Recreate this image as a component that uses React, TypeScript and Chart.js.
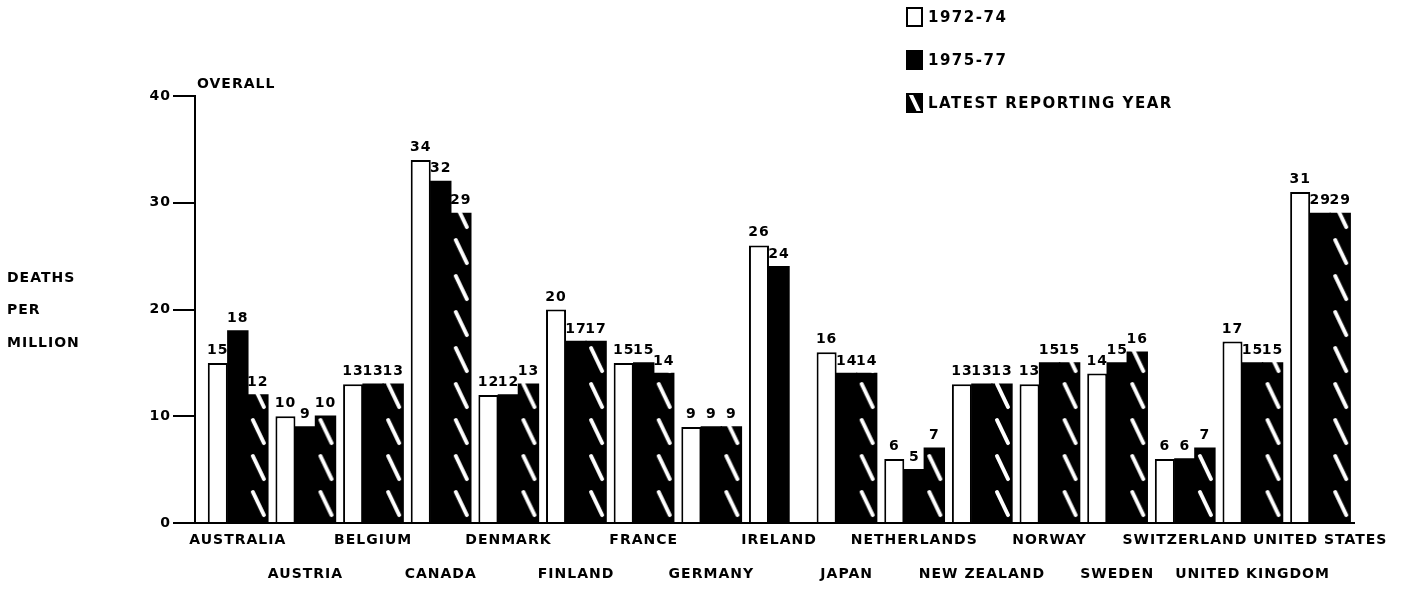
import React, { useEffect, useRef } from 'react';
import { Chart, registerables } from 'chart.js';

Chart.register(...registerables);

// ---- data ----
const countries = [
  'AUSTRALIA', 'AUSTRIA', 'BELGIUM', 'CANADA', 'DENMARK', 'FINLAND', 'FRANCE', 'GERMANY',
  'IRELAND', 'JAPAN', 'NETHERLANDS', 'NEW ZEALAND', 'NORWAY', 'SWEDEN', 'SWITZERLAND',
  'UNITED KINGDOM', 'UNITED STATES',
];
const period1972to74 = [15, 10, 13, 34, 12, 20, 15, 9, 26, 16, 6, 13, 13, 14, 6, 17, 31];
const period1975to77 = [18, 9, 13, 32, 12, 17, 15, 9, 24, 14, 5, 13, 15, 15, 6, 15, 29];
const latestReportingYear = [12, 10, 13, 29, 13, 17, 14, 9, null, 14, 7, 13, 15, 16, 7, 15, 29];
const seriesLabels = ['1972-74', '1975-77', 'LATEST REPORTING YEAR'];
const yTicks = [0, 10, 20, 30, 40];
const yTitleLines = ['DEATHS', 'PER', 'MILLION'];
const panelTitle = 'OVERALL';

const FONT = '"DejaVu Sans", sans-serif';

function makeHatchTile(): HTMLCanvasElement {
  const c = document.createElement('canvas');
  c.width = 20;
  c.height = 36;
  const g = c.getContext('2d') as CanvasRenderingContext2D;
  g.fillStyle = '#000';
  g.fillRect(0, 0, 20, 36);
  g.strokeStyle = '#fff';
  g.lineWidth = 4;
  g.lineCap = 'round';
  g.beginPath();
  g.moveTo(5, 5);
  g.lineTo(16, 28);
  g.stroke();
  return c;
}

export default function App() {
  const ref = useRef<HTMLCanvasElement | null>(null);

  useEffect(() => {
    const canvas = ref.current;
    if (!canvas) return;
    const tile = makeHatchTile();

    const spacingPlugin = {
      id: 'spacing',
      beforeDraw(chart: any) {
        chart.ctx.letterSpacing = '1px';
      },
    };

    const hatchPlugin = {
      id: 'hatchAlign',
      beforeDatasetsDraw(chart: any) {
        const ctx = chart.ctx as CanvasRenderingContext2D;
        const meta = chart.getDatasetMeta(2);
        meta.data.forEach((el: any) => {
          const { x, width } = el.getProps(['x', 'width'], true);
          const p = ctx.createPattern(tile, 'repeat') as CanvasPattern;
          p.setTransform(new DOMMatrix([width / 20, 0, 0, 1, x - width / 2, chart.chartArea.bottom]));
          el.options = Object.assign({}, el.options, { backgroundColor: p });
        });
      },
    };

    const valueLabelPlugin = {
      id: 'valueLabels',
      afterDatasetsDraw(chart: any) {
        const ctx = chart.ctx as CanvasRenderingContext2D;
        ctx.save();
        (ctx as any).letterSpacing = '1px';
        ctx.font = `bold 14px ${FONT}`;
        ctx.fillStyle = '#000';
        ctx.textAlign = 'center';
        ctx.textBaseline = 'alphabetic';
        chart.data.datasets.forEach((ds: any, di: number) => {
          const meta = chart.getDatasetMeta(di);
          meta.data.forEach((bar: any, i: number) => {
            const v = ds.data[i];
            if (v === null || v === undefined) return;
            const { x, y } = bar.getProps(['x', 'y'], true);
            ctx.fillText(String(v), x, y - 9);
          });
        });
        ctx.restore();
      },
    };

    const textPlugin = {
      id: 'extraText',
      afterDraw(chart: any) {
        const ctx = chart.ctx as CanvasRenderingContext2D;
        const area = chart.chartArea;
        const yScale = chart.scales.y;
        ctx.save();
        // baseline continues left to the value axis
        const y0 = yScale.getPixelForValue(0);
        ctx.strokeStyle = '#000';
        ctx.lineWidth = 2;
        ctx.beginPath();
        ctx.moveTo(yScale.right, y0);
        ctx.lineTo(area.left, y0);
        ctx.stroke();

        ctx.fillStyle = '#000';
        (ctx as any).letterSpacing = '1px';
        ctx.font = `bold 14px ${FONT}`;
        ctx.textBaseline = 'middle';
        ctx.textAlign = 'left';
        // panel title
        ctx.fillText(panelTitle, yScale.right + 2, area.top - 12);
        // y-axis title, horizontal lines at the left
        yTitleLines.forEach((line, i) => {
          ctx.fillText(line, 7, 278 + i * 32.5);
        });
        // legend (vertical, top right)
        (ctx as any).letterSpacing = '1.5px';
        ctx.font = `bold 15px ${FONT}`;
        const lx = 906;
        const bw = 17;
        const bh = 20;
        chart.data.datasets.forEach((ds: any, i: number) => {
          const cy = 17 + i * 43;
          const top = cy - bh / 2;
          if (i === 2) {
            const p = ctx.createPattern(tile, 'repeat') as CanvasPattern;
            p.setTransform(new DOMMatrix([1, 0, 0, 1, lx, top - 3]));
            ctx.fillStyle = p;
          } else {
            ctx.fillStyle = ds.backgroundColor;
          }
          ctx.fillRect(lx, top, bw, bh);
          ctx.strokeStyle = '#000';
          ctx.lineWidth = 2;
          ctx.strokeRect(lx + 1, top + 1, bw - 2, bh - 2);
          ctx.fillStyle = '#000';
          ctx.fillText(ds.label, lx + bw + 5, cy + 1);
        });
        ctx.restore();
      },
    };

    const barCommon = {
      categoryPercentage: 0.888,
      barPercentage: 1,
      borderColor: '#000',
      xAxisID: 'x',
      yAxisID: 'y',
    };

    const tickFont = { family: FONT, size: 14, weight: 'bold' as const };

    const chart = new Chart(canvas, {
      type: 'bar',
      data: {
        labels: countries.map((c, i) => (i % 2 === 0 ? c : ['', c])) as any,
        datasets: [
          { ...barCommon, label: seriesLabels[0], data: period1972to74, backgroundColor: '#fff', borderWidth: 2 },
          { ...barCommon, label: seriesLabels[1], data: period1975to77, backgroundColor: '#000', borderWidth: 0, inflateAmount: 0.7 },
          { ...barCommon, label: seriesLabels[2], data: latestReportingYear as any, backgroundColor: '#000', borderWidth: 0, inflateAmount: 0.7 },
        ],
      },
      options: {
        responsive: true,
        maintainAspectRatio: false,
        animation: false,
        events: [],
        layout: { padding: { top: 96, right: 64, left: 0, bottom: 0 } },
        plugins: {
          legend: { display: false },
          tooltip: { enabled: false },
          title: { display: false },
        },
        scales: {
          x: {
            type: 'category',
            offset: true,
            grid: { display: false, drawTicks: false },
            border: { display: true, color: '#000', width: 2 },
            ticks: {
              autoSkip: false,
              maxRotation: 0,
              minRotation: 0,
              padding: 0,
              color: '#000',
              font: { ...tickFont, lineHeight: '34px' },
            },
            afterFit: (s: any) => {
              s.height = 66;
            },
          },
          y: {
            type: 'linear',
            position: 'left',
            weight: 1,
            min: 0,
            max: 40,
            afterBuildTicks: (s: any) => {
              s.ticks = yTicks.map((v) => ({ value: v }));
            },
            ticks: { color: '#000', padding: 2, font: tickFont },
            grid: {
              display: true,
              drawOnChartArea: false,
              drawTicks: true,
              tickLength: 22,
              color: '#000',
              lineWidth: 2,
            },
            border: { display: true, color: '#000', width: 2 },
            afterFit: (s: any) => {
              s.width = 195;
            },
          },
          yGap: {
            type: 'linear',
            position: 'left',
            weight: 0,
            display: true,
            grid: { display: false },
            border: { display: false },
            ticks: { display: false },
            afterFit: (s: any) => {
              s.width = 9;
            },
          },
        },
      } as any,
      plugins: [spacingPlugin, hatchPlugin, valueLabelPlugin, textPlugin],
    });

    return () => {
      chart.destroy();
    };
  }, []);

  return (
    <div
      style={{
        position: 'absolute',
        left: 0,
        top: 0,
        width: 1418,
        height: 589,
        background: '#fff',
      }}
    >
      <canvas ref={ref} />
    </div>
  );
}
